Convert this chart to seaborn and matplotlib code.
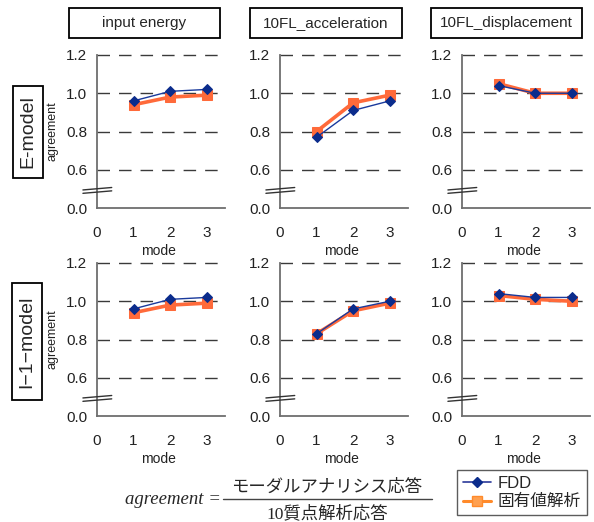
import matplotlib
matplotlib.use("Agg")
import matplotlib.pyplot as plt
from matplotlib.patches import Rectangle
from matplotlib.lines import Line2D
import seaborn as sns
import pandas as pd

sns.set_theme(style="white")
FONT = ['Liberation Sans', 'DejaVu Sans']
CJK = ['Noto Sans CJK JP', 'DejaVu Sans']
plt.rcParams['font.family'] = FONT

# ---------------- data ----------------
modes = [1, 2, 3]
columns = ["input energy", "10FL_acceleration", "10FL_displacement"]
rows = ["E-model", "I\u22121\u2212model"]
methods = ["FDD", "固有値解析"]

e_input_fdd = [0.96, 1.01, 1.02]
e_input_eig = [0.94, 0.98, 0.99]
e_acc_fdd = [0.77, 0.91, 0.96]
e_acc_eig = [0.80, 0.95, 0.99]
e_disp_fdd = [1.04, 1.00, 1.00]
e_disp_eig = [1.05, 1.00, 1.00]

i_input_fdd = [0.96, 1.01, 1.02]
i_input_eig = [0.94, 0.98, 0.99]
i_acc_fdd = [0.83, 0.96, 1.00]
i_acc_eig = [0.83, 0.95, 0.99]
i_disp_fdd = [1.04, 1.02, 1.02]
i_disp_eig = [1.03, 1.01, 1.00]

ytick_vals = [0.4, 0.6, 0.8, 1.0, 1.2]   # 0.4 position stands for the broken 0.0
ytick_labels = ["0.0", "0.6", "0.8", "1.0", "1.2"]
xtick_vals = [0, 1, 2, 3]

panels = [
    [(e_input_fdd, e_input_eig), (e_acc_fdd, e_acc_eig), (e_disp_fdd, e_disp_eig)],
    [(i_input_fdd, i_input_eig), (i_acc_fdd, i_acc_eig), (i_disp_fdd, i_disp_eig)],
]

# ---------------- figure ----------------
W, H = 594, 522
fig = plt.figure(figsize=(W / 100, H / 100), dpi=100)
fig.patch.set_facecolor("white")

def fx(px):
    return px / W

def fy(py):
    return 1 - py / H

col_left = [97, 280, 462]
ax_w = 128
row_top = [55, 263]
ax_h = 153

FDD_COLOR = "#1a3a9c"
FDD_MK = "#0b2c8c"
EIG_COLOR = "#ff6a3a"
SPINE = "#6e6e6e"

for r in range(2):
    for c in range(3):
        ax = fig.add_axes([fx(col_left[c]), fy(row_top[r] + ax_h), fx(ax_w), ax_h / H])
        fdd, eig = panels[r][c]
        df_e = pd.DataFrame({"mode": modes, "agreement": eig})
        df_f = pd.DataFrame({"mode": modes, "agreement": fdd})
        for gy in [0.6, 0.8, 1.0, 1.2]:
            ax.axhline(gy, color="#3a3a3a", lw=1.0, dashes=(9, 6.5), zorder=1, clip_on=False)
        sns.lineplot(data=df_e, x="mode", y="agreement", ax=ax, color=EIG_COLOR,
                     lw=2.6, marker="s", markersize=6.5, markeredgecolor=EIG_COLOR,
                     markerfacecolor=EIG_COLOR, zorder=3, clip_on=False)
        sns.lineplot(data=df_f, x="mode", y="agreement", ax=ax, color=FDD_COLOR,
                     lw=1.0, marker="D", markersize=5, markeredgecolor=FDD_MK,
                     markerfacecolor=FDD_MK, zorder=4, clip_on=False)
        ax.set_xlim(0, 3.5)
        ax.set_ylim(0.4, 1.2)
        ax.set_yticks(ytick_vals)
        ax.set_yticklabels(ytick_labels)
        ax.set_xticks(xtick_vals)
        ax.set_xticklabels([str(v) for v in xtick_vals])
        ax.tick_params(axis="y", length=0, pad=7, labelsize=11, colors="#222222")
        ax.tick_params(axis="x", length=5, width=1.1, direction="out", color=SPINE,
                       pad=8, labelsize=11, labelcolor="#222222")
        ax.set_facecolor("none")
        for s in ["top", "right"]:
            ax.spines[s].set_visible(False)
        for s in ["left", "bottom"]:
            ax.spines[s].set_color(SPINE)
            ax.spines[s].set_linewidth(1.3)
        ax.set_xlabel("mode", fontsize=10, color="#222222")
        ax.xaxis.set_label_coords(0.48, -0.235)
        if c == 0:
            ax.set_ylabel("agreement", fontsize=9, color="#222222")
            ax.yaxis.set_label_coords(-0.30, 0.5)
        else:
            ax.set_ylabel("")
        # axis break marks
        for dy in (0.0, 0.022):
            ax.plot([-0.11, 0.115], [0.096 + dy, 0.112 + dy], transform=ax.transAxes,
                    color="#333333", lw=1.0, clip_on=False, zorder=5)

# column titles in boxes
title_boxes = [(69, 220), (250, 402), (431, 582)]
for (x0, x1), name in zip(title_boxes, columns):
    fig.add_artist(Rectangle((fx(x0), fy(38)), fx(x1 - x0), 30 / H, transform=fig.transFigure,
                             fill=False, ec="black", lw=1.3))
    fig.text(fx((x0 + x1) / 2), fy(23), name, ha="center", va="center", fontsize=11)

# row labels in boxes
row_boxes = [(13, 86, 43, 178), (12, 283, 42, 400)]
for (x0, y0, x1, y1), name in zip(row_boxes, rows):
    fig.add_artist(Rectangle((fx(x0), fy(y1)), fx(x1 - x0), (y1 - y0) / H, transform=fig.transFigure,
                             fill=False, ec="black", lw=1.3))
    fig.text(fx((x0 + x1) / 2), fy((y0 + y1) / 2), name, ha="center", va="center",
             rotation=90, fontsize=14)

# formula
fig.text(fx(221), fy(500), "agreement =", ha="right", va="center", fontsize=13.5,
         family=["Liberation Serif", "DejaVu Serif"], style="italic")
fig.add_artist(Line2D([fx(223), fx(432)], [fy(499), fy(499)], transform=fig.transFigure,
                      color="#444444", lw=1.0))
fig.text(fx(327), fy(487), "モーダルアナリシス応答", ha="center", va="center", fontsize=12.5,
         family=CJK)
fig.text(fx(327), fy(514), "10質点解析応答", ha="center", va="center", fontsize=12.5,
         family=["Liberation Serif", "Noto Sans CJK JP"])

# legend
handles = [
    Line2D([], [], color="#2b3a9a", lw=1.2, marker="D", markersize=5,
           markerfacecolor="#0b2c8c", markeredgecolor="#0b2c8c"),
    Line2D([], [], color="#ff8a2a", lw=2.2, marker="s", markersize=7,
           markerfacecolor="#ffa050", markeredgecolor="#ff8a2a"),
]
leg = fig.legend(handles, methods, loc="upper left", bbox_to_anchor=(fx(457), fy(470)),
                 frameon=True, fancybox=False, handlelength=1.7, handletextpad=0.4,
                 borderpad=0.35, labelspacing=0.2, borderaxespad=0,
                 prop={"family": ['Liberation Sans', 'Noto Sans CJK JP'], "size": 12})
leg.get_frame().set_edgecolor("#333333")
leg.get_frame().set_linewidth(1.0)

fig.savefig("out.png", dpi=100, facecolor="white")
